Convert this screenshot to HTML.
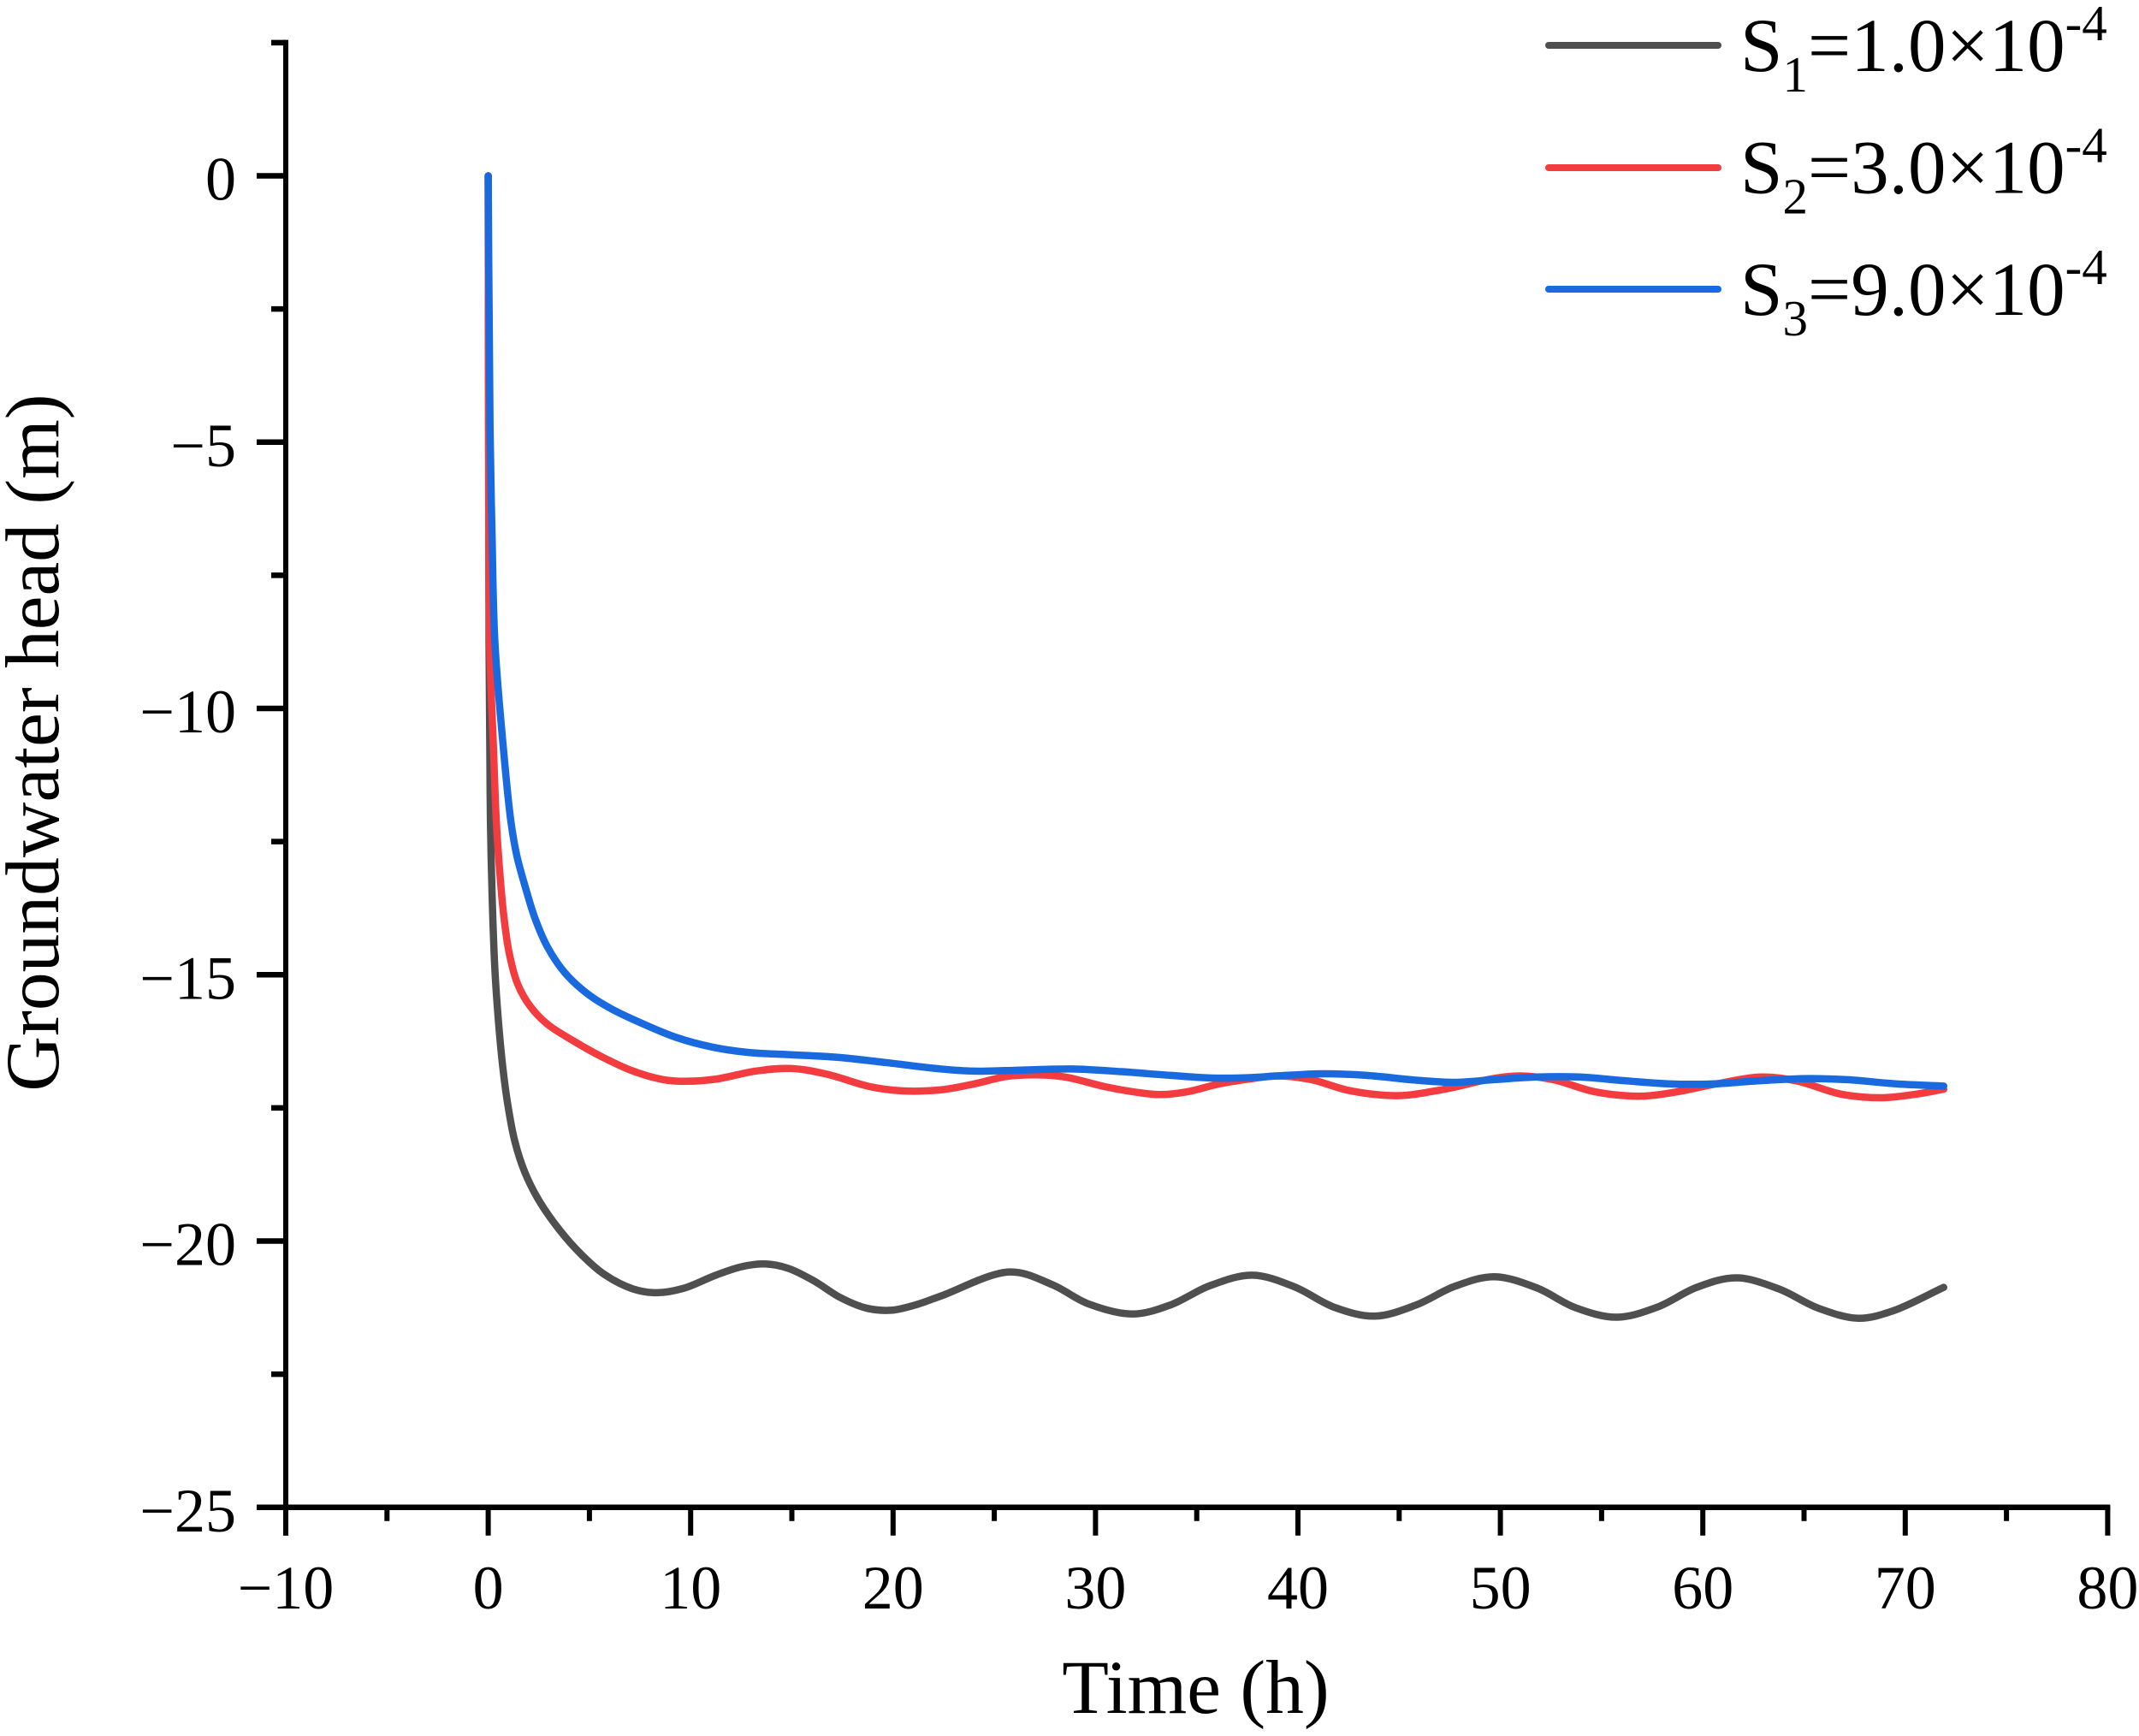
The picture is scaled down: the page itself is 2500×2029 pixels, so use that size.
<!DOCTYPE html>
<html lang="en">
<head>
<meta charset="utf-8">
<title>Groundwater head vs time</title>
<style>
html,body{margin:0;padding:0;background:#fff;}
svg{display:block;}
text{font-family:"Liberation Serif","Times New Roman",serif;fill:#000;}
</style>
</head>
<body>
<svg id="chart" xmlns="http://www.w3.org/2000/svg" width="2500" height="2029" viewBox="0 0 2500 2029">
  <rect x="0" y="0" width="2500" height="2029" fill="#fff"/>
  <g id="axes"></g>
  <g id="series"></g>
  <text x="1397.5" y="2002" font-size="89.5" text-anchor="middle">Time (h)</text>
  <text transform="translate(68 868) rotate(-90)" font-size="89.5" text-anchor="middle">Groundwater head (m)</text>
  <g>
    <g>
      <line x1="1810" y1="53" x2="2008" y2="53" stroke="#4f4f4f" stroke-width="8" stroke-linecap="round"/>
      <text x="2034" y="83" font-size="89">S<tspan dy="24" font-size="59">1</tspan><tspan dy="-24">=1.0×10</tspan><tspan dy="-36" font-size="59">-4</tspan></text>
    </g>
    <g>
      <line x1="1810" y1="196" x2="2008" y2="196" stroke="#f33c40" stroke-width="8" stroke-linecap="round"/>
      <text x="2034" y="225.5" font-size="89">S<tspan dy="24" font-size="59">2</tspan><tspan dy="-24">=3.0×10</tspan><tspan dy="-36" font-size="59">-4</tspan></text>
    </g>
    <g>
      <line x1="1810" y1="338" x2="2008" y2="338" stroke="#186ade" stroke-width="8" stroke-linecap="round"/>
      <text x="2034" y="368" font-size="89">S<tspan dy="24" font-size="59">3</tspan><tspan dy="-24">=9.0×10</tspan><tspan dy="-36" font-size="59">-4</tspan></text>
    </g>
  </g>
</svg>
<script>
const xMajorTicks = [-10, 0, 10, 20, 30, 40, 50, 60, 70, 80];
const xMinorTicks = [-5, 5, 15, 25, 35, 45, 55, 65, 75];
const yMajorTicks = [0, -5, -10, -15, -20, -25];
const yMinorTicks = [2.5, -2.5, -7.5, -12.5, -17.5, -22.5];

const s1Times = [0, 0.04, 0.08, 0.11, 0.2, 0.33, 0.49, 0.71, 0.96, 1.31, 1.81, 2.51, 3.5, 4.62, 5.75, 7.16, 8.34, 9.63, 11.25, 12.54, 13.68, 14.8, 16.1, 17.39, 18.69, 19.9, 21.1, 22.38, 25.77, 27.87, 29.65, 31.84, 33.7, 35.64, 37.74, 39.83, 41.77, 43.8, 45.84, 47.75, 49.7, 51.8, 53.7, 55.75, 57.76, 59.7, 61.65, 63.76, 65.7, 67.7, 69.4, 71.9];
const s1Values = [0, -8.75, -10.75, -12.12, -13.6, -14.9, -15.8, -16.7, -17.42, -18.12, -18.71, -19.24, -19.78, -20.26, -20.63, -20.9, -20.97, -20.89, -20.64, -20.48, -20.43, -20.51, -20.75, -21.06, -21.26, -21.3, -21.2, -21.03, -20.58, -20.82, -21.18, -21.37, -21.2, -20.84, -20.64, -20.86, -21.24, -21.41, -21.2, -20.85, -20.67, -20.88, -21.25, -21.43, -21.24, -20.87, -20.69, -20.9, -21.26, -21.45, -21.31, -20.87];

const s2Times = [0, 0.02, 0.07, 0.26, 0.4, 0.54, 0.75, 1.03, 1.45, 2.09, 2.93, 4.2, 5.61, 7.16, 8.66, 9.8, 11.25, 13.2, 14.97, 16.75, 18.85, 20.47, 22.38, 24, 25.6, 27.08, 28.5, 30.45, 32.08, 33.2, 34.5, 36.1, 37.75, 39, 40.65, 42.6, 45, 46.65, 47.75, 49.35, 50.97, 52.6, 54.7, 56.95, 58.7, 60.67, 62.94, 64.7, 66.8, 68.75, 70.4, 71.9];
const s2Values = [0, -4.73, -8.75, -10.75, -12.12, -12.92, -13.83, -14.58, -15.17, -15.6, -15.93, -16.24, -16.54, -16.81, -16.97, -17, -16.96, -16.81, -16.76, -16.87, -17.1, -17.18, -17.16, -17.05, -16.91, -16.88, -16.92, -17.1, -17.21, -17.25, -17.2, -17.05, -16.95, -16.9, -16.97, -17.18, -17.27, -17.19, -17.11, -16.97, -16.9, -16.97, -17.2, -17.28, -17.2, -17.05, -16.92, -17, -17.24, -17.31, -17.25, -17.15];

const s3Times = [0, 0.09, 0.19, 0.33, 0.75, 1.12, 1.41, 1.83, 2.31, 2.93, 3.78, 4.91, 6.03, 7.16, 9.31, 11.09, 12.87, 14.81, 17.24, 19.66, 22.38, 24, 25.6, 28.85, 31.27, 33.7, 35.8, 37.75, 39.37, 41.3, 43.4, 45.84, 47.75, 49.67, 51.8, 53.9, 56.15, 58.4, 60.5, 62.8, 65.2, 67.1, 69.6, 71.9];
const s3Values = [0, -4.73, -6.74, -8.75, -10.75, -12.12, -12.76, -13.35, -13.94, -14.48, -14.96, -15.36, -15.63, -15.84, -16.18, -16.36, -16.46, -16.5, -16.55, -16.65, -16.77, -16.81, -16.8, -16.77, -16.82, -16.89, -16.94, -16.93, -16.89, -16.86, -16.89, -16.98, -17.02, -16.97, -16.92, -16.92, -16.99, -17.05, -17.05, -16.99, -16.95, -16.97, -17.05, -17.09];

const NS = 'http://www.w3.org/2000/svg';
const X0 = 570.6, XS = 23.66, Y0 = 205.5, YS = 62.25;
function xScale(t) { return X0 + XS * t; }
function yScale(v) { return Y0 - YS * v; }
function fmt(n) { return String(n).replace('-', '\u2212'); }

function make(parent, tag, attrs) {
  const el = document.createElementNS(NS, tag);
  for (const k in attrs) el.setAttribute(k, attrs[k]);
  parent.appendChild(el);
  return el;
}

function smoothPath(ts, vs) {
  const px = ts.map(xScale), py = vs.map(yScale), n = ts.length;
  const d = [], tx = new Array(n), ty = new Array(n);
  for (let i = 0; i < n - 1; i++) {
    d[i] = Math.pow(Math.hypot(px[i + 1] - px[i], py[i + 1] - py[i]), 0.5);
  }
  tx[0] = (px[1] - px[0]) / d[0];
  ty[0] = (py[1] - py[0]) / d[0];
  tx[n - 1] = (px[n - 1] - px[n - 2]) / d[n - 2];
  ty[n - 1] = (py[n - 1] - py[n - 2]) / d[n - 2];
  for (let i = 1; i < n - 1; i++) {
    const a = d[i - 1], b = d[i];
    tx[i] = (px[i] - px[i - 1]) / a - (px[i + 1] - px[i - 1]) / (a + b) + (px[i + 1] - px[i]) / b;
    ty[i] = (py[i] - py[i - 1]) / a - (py[i + 1] - py[i - 1]) / (a + b) + (py[i + 1] - py[i]) / b;
  }
  let p = 'M' + px[0].toFixed(2) + ' ' + py[0].toFixed(2);
  for (let i = 0; i < n - 1; i++) {
    p += 'C' + (px[i] + tx[i] * d[i] / 3).toFixed(2) + ' ' + (py[i] + ty[i] * d[i] / 3).toFixed(2) + ' ' +
         (px[i + 1] - tx[i + 1] * d[i] / 3).toFixed(2) + ' ' + (py[i + 1] - ty[i + 1] * d[i] / 3).toFixed(2) + ' ' +
         px[i + 1].toFixed(2) + ' ' + py[i + 1].toFixed(2);
  }
  return p;
}

const axes = document.getElementById('axes');
const seriesGroup = document.getElementById('series');
const AXIS_X = xScale(-10), AXIS_Y = yScale(-25);

xMinorTicks.forEach(function (t) {
  const el = make(axes, 'line', { x1: xScale(t), x2: xScale(t), y1: AXIS_Y, y2: AXIS_Y + 16, stroke: '#000', 'stroke-width': 6 });
  
  
});
xMajorTicks.forEach(function (t) {
  const el = make(axes, 'line', { x1: xScale(t), x2: xScale(t), y1: AXIS_Y, y2: AXIS_Y + 33, stroke: '#000', 'stroke-width': 6 });
  
  
  const lb = make(axes, 'text', { x: xScale(t), y: 1880, 'font-size': 72, 'text-anchor': 'middle' });
  lb.textContent = fmt(t);
  
  
});
yMinorTicks.forEach(function (v) {
  const el = make(axes, 'line', { x1: AXIS_X - 17, x2: AXIS_X, y1: yScale(v), y2: yScale(v), stroke: '#000', 'stroke-width': 6.5 });
  
  
});
yMajorTicks.forEach(function (v) {
  const el = make(axes, 'line', { x1: AXIS_X - 34, x2: AXIS_X, y1: yScale(v), y2: yScale(v), stroke: '#000', 'stroke-width': 6.5 });
  
  
  const lb = make(axes, 'text', { x: 276, y: yScale(v) + 28, 'font-size': 72, 'text-anchor': 'end' });
  lb.textContent = fmt(v);
  
  
});

const yAxisLine = make(axes, 'line', { x1: AXIS_X, x2: AXIS_X, y1: yScale(2.5) - 3.25, y2: AXIS_Y + 33, stroke: '#000', 'stroke-width': 6 });


const xAxisLine = make(axes, 'line', { x1: AXIS_X - 34, x2: xScale(80) + 3, y1: AXIS_Y, y2: AXIS_Y, stroke: '#000', 'stroke-width': 6.5 });



const lineS1 = make(seriesGroup, 'path', { d: smoothPath(s1Times, s1Values), fill: 'none', stroke: '#4f4f4f', 'stroke-width': 8.5, 'stroke-linecap': 'round', 'stroke-linejoin': 'round' });


const lineS2 = make(seriesGroup, 'path', { d: smoothPath(s2Times, s2Values), fill: 'none', stroke: '#f33c40', 'stroke-width': 8.5, 'stroke-linecap': 'round', 'stroke-linejoin': 'round' });


const lineS3 = make(seriesGroup, 'path', { d: smoothPath(s3Times, s3Values), fill: 'none', stroke: '#186ade', 'stroke-width': 8.5, 'stroke-linecap': 'round', 'stroke-linejoin': 'round' });


</script>
</body>
</html>
